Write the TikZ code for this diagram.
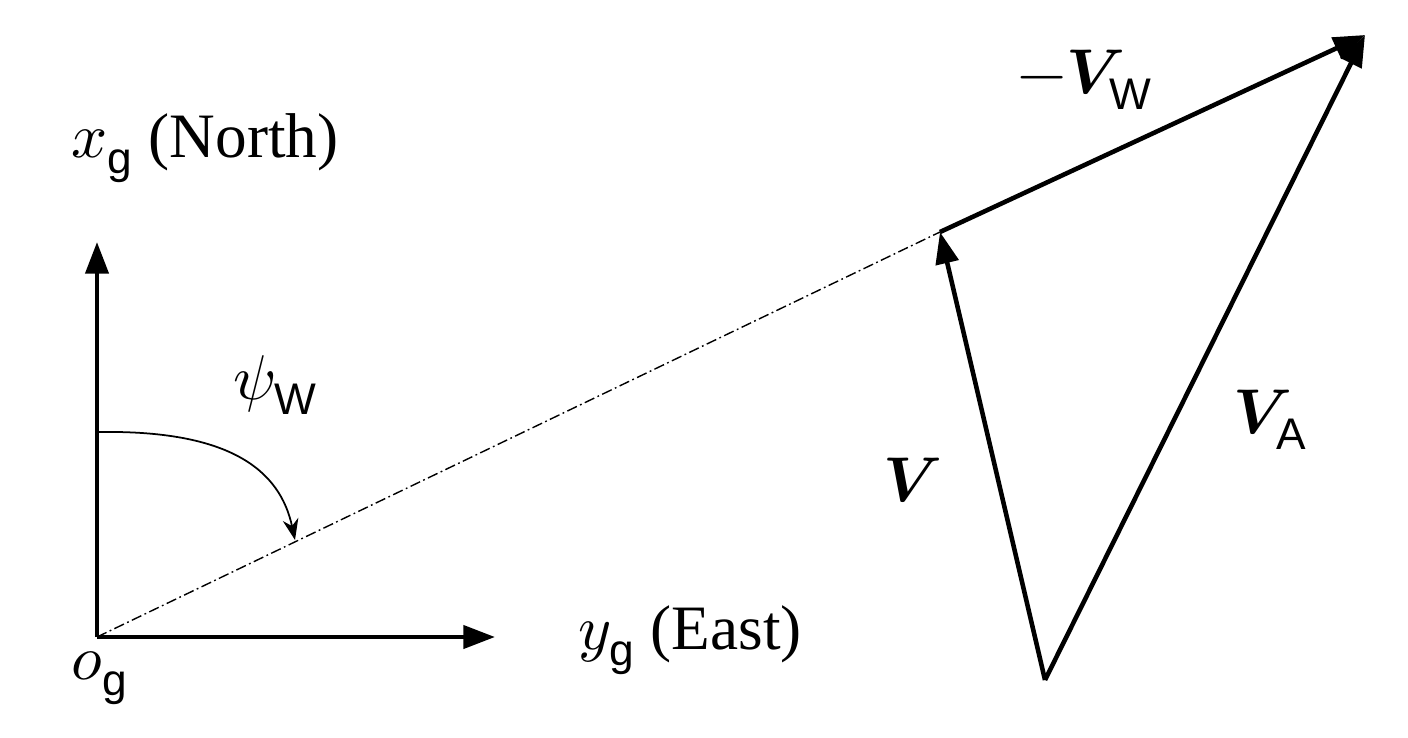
\documentclass[tikz,border=0pt]{standalone}
\usepackage{amsmath}
\usepackage{fontspec}
\usepackage{unicode-math}
\setmainfont{Liberation Serif}
\setmathfont{Latin Modern Math}
\newfontfamily\subsf{Liberation Sans}
\usetikzlibrary{arrows.meta}
\newcommand{\sbs}[1]{\text{\subsf #1}}
\begin{document}
\begin{tikzpicture}[x=0.02cm,y=-0.02cm,
  vec/.style={line width=2.6pt,-{Triangle[length=18pt,width=13pt]}},
  lbl/.style={font=\fontsize{36}{40}\selectfont, inner sep=0pt}]
\useasboundingbox (0,0) rectangle (1408,737);
\coordinate (O) at (97,637);
\coordinate (X) at (97,242);
\coordinate (Y) at (495,637);
\coordinate (P) at (940,232);
\coordinate (B) at (1045,680);
\coordinate (T) at (1365,35);
\draw[vec] (O) -- (X);
\draw[vec] (O) -- (Y);
\draw[line width=0.8pt, dash pattern=on 6pt off 2pt on 1pt off 2pt] (O) -- (P);
\draw[line width=1pt,-{Stealth[length=12pt,width=9pt]}] (99,432) .. controls (230,430) and (280,470) .. (295,540);
\draw[vec] (B) -- (P);
\draw[vec] (B) -- (T);
\draw[vec] (P) -- (T);
\node[lbl] (xg) at (205,148) {$x_{\sbs{g}}$ (North)};
\node[lbl] (psi) at (275,385) {$\psi_{\sbs{W}}$};
\node[lbl] (og) at (100,678) {$o_{\sbs{g}}$};
\node[lbl] (yg) at (690,640) {$y_{\sbs{g}}$ (East)};
\node[lbl] (vw) at (1085,80) {$-\symbfit{V}_{\sbs{W}}$};
\node[lbl] (v) at (912,480) {$\symbfit{V}$};
\node[lbl] (va) at (1270,420) {$\symbfit{V}_{\sbs{A}}$};
\end{tikzpicture}
\end{document}
